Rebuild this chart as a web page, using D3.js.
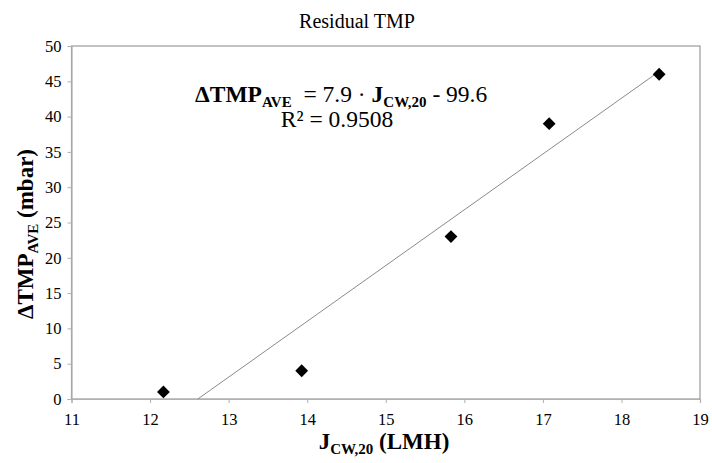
<!DOCTYPE html>
<html><head><meta charset="utf-8">
<script src="https://cdn.jsdelivr.net/npm/d3@7"></script>
<style>body{margin:0;background:#fff}svg{display:block}svg text{font-family:"Liberation Serif","Times New Roman",serif !important}</style>
</head><body><svg id="c" width="712" height="463"></svg>
<script>
const xValues = [12.17, 13.93, 15.83, 17.08, 18.48];
const yValues = [1, 4, 23, 39, 46];
const xTicks = [11, 12, 13, 14, 15, 16, 17, 18, 19];
const yTicks = [0, 5, 10, 15, 20, 25, 30, 35, 40, 45, 50];
const slope = 7.9, intercept = -99.6;

const svg = d3.select("#c");
const L = 71.5, R = 700, T = 46, B = 399;
const x = d3.scaleLinear().domain([11, 19]).range([L, R]);
const y = d3.scaleLinear().domain([0, 50]).range([B, T]);

// frame
svg.append("rect").attr("x", L).attr("y", T).attr("width", R - L).attr("height", B - T)
  .attr("fill", "none").attr("stroke", "#9a9a9a").attr("stroke-width", 1.2);

const xa = svg.append("g").attr("transform", `translate(0,${B})`)
  .call(d3.axisBottom(x).tickValues(xTicks).tickSize(4).tickPadding(10).tickFormat(d3.format("d")));
const ya = svg.append("g").attr("transform", `translate(${L},0)`)
  .call(d3.axisLeft(y).tickValues(yTicks).tickSize(4).tickPadding(6).tickFormat(d3.format("d")));
[xa, ya].forEach(a => {
  a.attr("font-family", null).attr("font-size", null);
  a.select(".domain").attr("stroke", "#b0b0b0").attr("stroke-width", 1.2);
  a.selectAll(".tick line").attr("stroke", "#b0b0b0");
  a.selectAll(".tick text").attr("fill", "#000").style("font-size", "16.5px");
});

// trendline
const x0 = -intercept / slope, x1 = d3.max(xValues);
svg.append("line").attr("x1", x(x0)).attr("y1", y(slope * x0 + intercept))
  .attr("x2", x(x1)).attr("y2", y(slope * x1 + intercept))
  .attr("stroke", "#8a8a8a").attr("stroke-width", 1);

// points
svg.append("g").selectAll("path").data(xValues.map((v, i) => [v, yValues[i]])).join("path")
  .attr("d", d3.symbol(d3.symbolSquare, 82))
  .attr("transform", d => `translate(${x(d[0])},${y(d[1])}) rotate(45)`)
  .attr("fill", "#000");

// title
svg.append("text").attr("x", 357).attr("y", 28).attr("text-anchor", "middle")
  .style("font-size", "20px").text("Residual TMP");

// equation
const eq = svg.append("text").attr("x", 195).attr("y", 102).style("font-size", "23.5px");
eq.append("tspan").attr("font-weight", "bold").text("ΔTMP");
eq.append("tspan").attr("font-weight", "bold").attr("dy", 5).style("font-size", "15px").text("AVE");
eq.append("tspan").attr("dy", -5).text("\u00a0\u00a0= 7.9 · ");
eq.append("tspan").attr("font-weight", "bold").text("J");
eq.append("tspan").attr("font-weight", "bold").attr("dy", 5).style("font-size", "15px").text("CW,20");
eq.append("tspan").attr("dy", -5).text(" - 99.6");

svg.append("text").attr("x", 337).attr("y", 127).attr("text-anchor", "middle")
  .style("font-size", "23.5px").text("R² = 0.9508");

// x label
const xl = svg.append("text").attr("x", 384).attr("y", 449).attr("text-anchor", "middle")
  .attr("font-weight", "bold").style("font-size", "23px");
xl.append("tspan").text("J");
xl.append("tspan").attr("dy", 5).style("font-size", "15px").text("CW,20");
xl.append("tspan").attr("dy", -5).text(" (LMH)");

// y label
const yl = svg.append("text").attr("transform", `translate(33,234) rotate(-90)`)
  .attr("text-anchor", "middle").attr("font-weight", "bold").style("font-size", "23px");
yl.append("tspan").text("ΔTMP");
yl.append("tspan").attr("dy", 5).style("font-size", "15px").text("AVE");
yl.append("tspan").attr("dy", -5).text(" (mbar)");
</script></body></html>
